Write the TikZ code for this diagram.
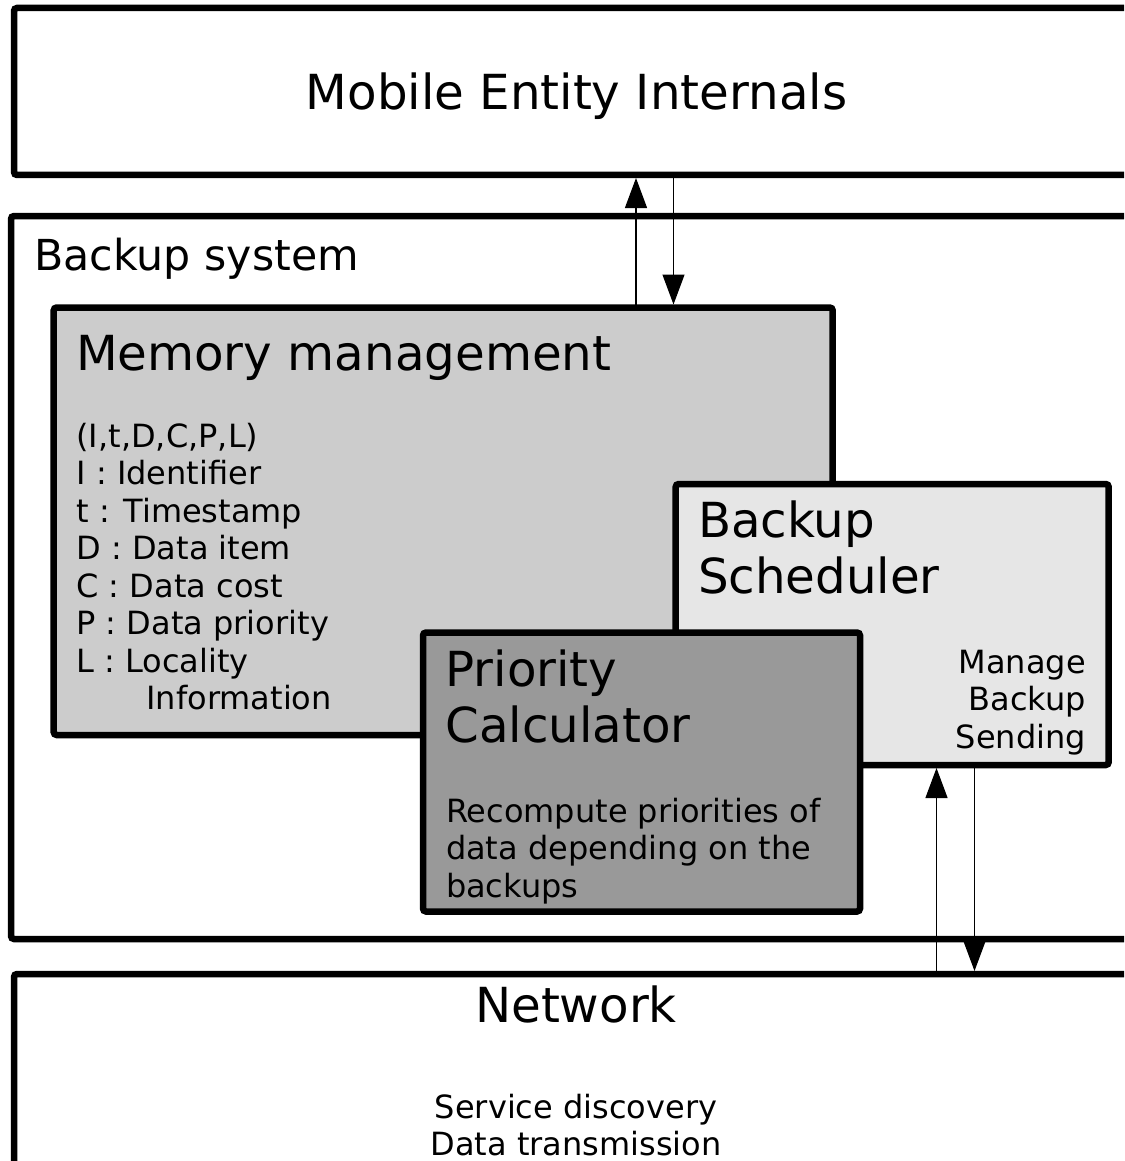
\documentclass[tikz,border=0pt]{standalone}
\usepackage{fontspec}
\setmainfont{DejaVu Sans}
\usetikzlibrary{arrows.meta}
\definecolor{mmgrey}{HTML}{CCCCCC}
\definecolor{bsgrey}{HTML}{E6E6E6}
\definecolor{pcgrey}{HTML}{999999}
\newcommand\bigfnt{\fontsize{48.3}{56}\selectfont}
\newcommand\medfnt{\fontsize{42.7}{50}\selectfont}
\newcommand\smallfnt{\fontsize{32}{37.5}\selectfont}
\tikzset{
  box/.style={draw=black, line width=6.5pt, rounded corners=3pt, anchor=north west,
    inner sep=0pt, outer sep=0pt},
  lbl/.style={anchor=base west, inner sep=0pt, outer sep=0pt},
  arr/.style={line width=1.2pt, draw=black, shorten >=3pt, shorten <=3pt,
    -{Triangle[length=30pt,width=22pt]}},
}
\begin{document}
\begin{tikzpicture}[x=1pt,y=-1pt]
\clip (0,0) rectangle (1124,1161);
\fill[white] (0,0) rectangle (1124,1161);
% outer layers
\node[box, minimum width=1126pt, minimum height=167pt] (top) at (14,8) {};
\node[box, minimum width=1129pt, minimum height=723pt] (bsys) at (11,216) {};
\node[box, minimum width=1126pt, minimum height=260pt] (net) at (14,974) {};
% inner boxes
\node[box, fill=mmgrey, minimum width=779pt, minimum height=427.5pt] (mm) at (53.7,307.5) {};
\node[box, fill=bsgrey, minimum width=433pt, minimum height=281pt] (bs) at (675.7,484) {};
\node[box, fill=pcgrey, minimum width=437pt, minimum height=279pt] (pc) at (423,632.5) {};
% texts
\node[anchor=base, inner sep=0pt] (ttop) at (576.5,110) {\bigfnt Mobile Entity Internals};
\node[lbl] (tbsys) at (34.5,270) {\medfnt Backup system};
\node[lbl] (tmm) at (76,370) {\bigfnt Memory management};
\node[lbl] (tmmlist) at (76.5,447) {\smallfnt\begin{tabular}[t]{@{}l@{}}
(I,t,D,C,P,L)\\
I : Identifier\\
t : Timestamp\\
D : Data item\\
C : Data cost\\
P : Data priority\\
L : Locality\\
\hspace*{70pt}Information
\end{tabular}};
\node[lbl] (tbs) at (698,537) {\bigfnt\begin{tabular}[t]{@{}l@{}}Backup\\Scheduler\end{tabular}};
\node[anchor=base east, inner sep=0pt] (tbsdesc) at (1086,673) {\smallfnt\begin{tabular}[t]{@{}r@{}}Manage\\Backup\\Sending\end{tabular}};
\node[lbl] (tpc) at (445.5,686) {\bigfnt\begin{tabular}[t]{@{}l@{}}Priority\\Calculator\end{tabular}};
\node[lbl] (tpcdesc) at (446,822) {\smallfnt\begin{tabular}[t]{@{}l@{}}Recompute priorities of\\data depending on the\\backups\end{tabular}};
\node[anchor=base, inner sep=0pt] (tnet) at (576,1022) {\bigfnt Network};
\node[anchor=base, inner sep=0pt] (tnetdesc) at (576,1118) {\smallfnt\begin{tabular}[t]{@{}c@{}}Service discovery\\Data transmission\end{tabular}};
% connectors
\coordinate (a1) at (636,0);
\coordinate (a2) at (673.5,0);
\coordinate (b1) at (936.5,0);
\coordinate (b2) at (974.5,0);
\draw[arr] (mm.north -| a1) -- (top.south -| a1);
\draw[arr] (top.south -| a2) -- (mm.north -| a2);
\draw[arr] (net.north -| b1) -- (bs.south -| b1);
\draw[arr] (bs.south -| b2) -- (net.north -| b2);
\end{tikzpicture}
\end{document}
